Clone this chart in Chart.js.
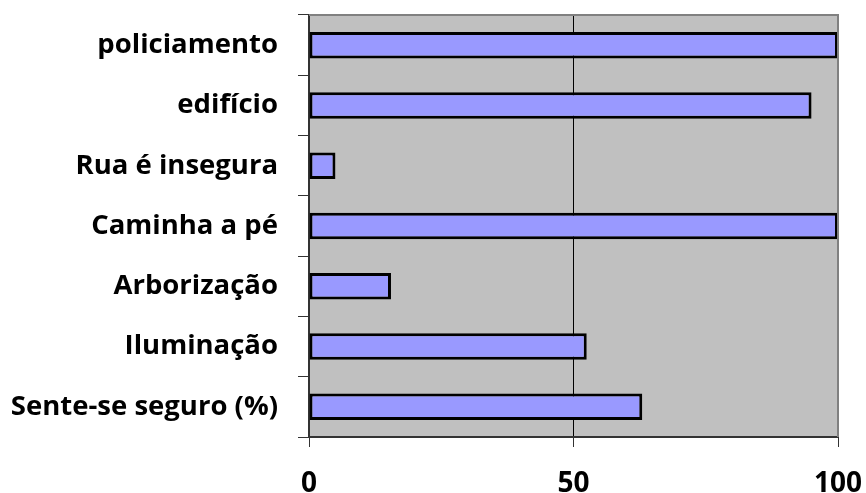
<!DOCTYPE html>
<html>
<head>
<meta charset="utf-8">
<script src="https://cdn.jsdelivr.net/npm/chart.js@4/dist/chart.umd.min.js"></script>
<style>
  html, body { margin: 0; padding: 0; background: #fff; }
  #wrap { width: 866px; height: 493px; }
</style>
</head>
<body>
<div id="wrap"><canvas id="c" width="866" height="493"></canvas></div>
<script>
// Survey categories (top to bottom) and their percentages
const categories = [
  'policiamento',
  'edifício',
  'Rua é insegura',
  'Caminha a pé',
  'Arborização',
  'Iluminação',
  'Sente-se seguro (%)'
];
const values = [100, 95, 5, 100, 15.5, 52.5, 63];
const xTicks = [0, 50, 100];

// Grey plot area with a thin frame on the top and right sides
const plotFrame = {
  id: 'plotFrame',
  beforeDraw(chart) {
    const { ctx, chartArea: a } = chart;
    ctx.save();
    ctx.fillStyle = '#C0C0C0';
    ctx.fillRect(a.left, a.top, a.right - a.left, a.bottom - a.top);
    ctx.restore();
  },
  afterDraw(chart) {
    const { ctx, chartArea: a } = chart;
    ctx.save();
    ctx.strokeStyle = '#808080';
    ctx.lineWidth = 2;
    ctx.beginPath();
    ctx.moveTo(a.left, a.top);
    ctx.lineTo(a.right, a.top);
    ctx.lineTo(a.right, a.bottom);
    ctx.stroke();
    ctx.restore();
  }
};

new Chart(document.getElementById('c'), {
  type: 'bar',
  data: {
    labels: categories,
    datasets: [{
      data: values,
      backgroundColor: '#9999FF',
      borderColor: '#000000',
      borderWidth: 3,
      borderSkipped: false,
      categoryPercentage: 1,
      barPercentage: 0.44
    }]
  },
  options: {
    indexAxis: 'y',
    responsive: false,
    animation: false,
    layout: { padding: { top: 15, right: 28, left: 0, bottom: 0 } },
    plugins: { legend: { display: false }, tooltip: { enabled: false } },
    scales: {
      x: {
        min: 0,
        max: 100,
        afterBuildTicks(scale) { scale.ticks = xTicks.map(v => ({ value: v })); },
        afterFit(scale) {
          scale.height = 56;
          scale.paddingLeft = 0;
          scale.paddingRight = 0;
        },
        grid: {
          color: '#000000',
          lineWidth: 1,
          drawOnChartArea: true,
          tickLength: 10,
          tickColor: '#333333'
        },
        border: { color: '#333333', width: 2 },
        ticks: {
          color: '#000000',
          padding: 20,
          font: { family: 'Open Sans', weight: 'bold', size: 28 }
        }
      },
      y: {
        afterFit(scale) {
          scale.width = 309;
          scale.paddingTop = 0;
          scale.paddingBottom = 0;
        },
        grid: {
          drawOnChartArea: false,
          offset: true,
          tickLength: 11,
          tickColor: '#333333'
        },
        border: { color: '#333333', width: 2 },
        ticks: {
          color: '#000000',
          padding: 20,
          font: { family: 'Open Sans', weight: 'bold', size: 27.5 }
        }
      }
    }
  },
  plugins: [plotFrame]
});
</script>
</body>
</html>
